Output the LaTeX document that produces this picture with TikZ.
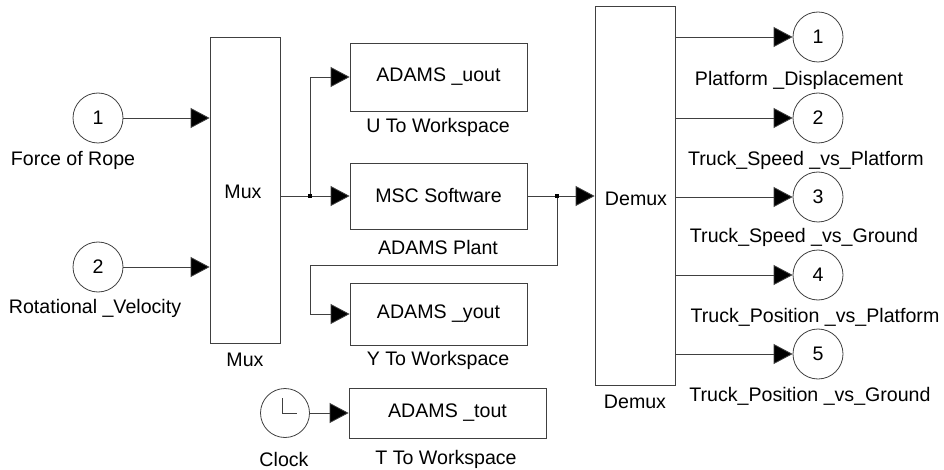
\documentclass[tikz,border=0pt]{standalone}
\usepackage{fontspec}
\setmainfont{Liberation Sans}
\usetikzlibrary{arrows.meta,calc}

\begin{document}
\begin{tikzpicture}[x=1pt,y=-1pt,
  every node/.style={font=\fontsize{19.6}{22}\selectfont, inner sep=0pt},
  block/.style={draw=black!75, line width=0.8pt, fill=white, rectangle},
  port/.style={draw=black!75, line width=0.8pt, circle, minimum size=50pt},
  sig/.style={draw=black!75, line width=0.8pt, -{Triangle[length=19pt,width=20pt,fill=black]}},
  wire/.style={draw=black!75, line width=0.8pt},
  jdot/.style={fill=black, rectangle, minimum size=4pt}
]
\useasboundingbox (0,0) rectangle (944,470);

% input ports
\node[port] (in1) at (98,118) {1};
\node at (73,160) {Force of Rope};
\node[port] (in2) at (98,267) {2};
\node at (95,308) {Rotational \_Velocity};

% multiplexer
\node[block, minimum width=70pt, minimum height=306pt] (mux) at (245,190) {};
\node at (243,192) {Mux};
\node at (245,360) {Mux};

% workspace sinks and plant
\node[block, minimum width=177pt, minimum height=68pt] (uout) at (438.5,77) {ADAMS \_uout};
\node at (438,127) {U To Workspace};
\node[block, minimum width=177pt, minimum height=66pt] (msc) at (438.5,196) {MSC Software};
\node at (438,247) {ADAMS Plant};
\node[block, minimum width=177pt, minimum height=62pt] (yout) at (438.5,314) {ADAMS \_yout};
\node at (438,360) {Y To Workspace};
\node[block, minimum width=197pt, minimum height=50pt] (tout) at (447.5,413) {ADAMS \_tout};
\node at (446,459) {T To Workspace};

% clock source
\node[port, minimum size=49pt] (clk) at (285,413) {};
\draw[wire] ($(clk.center)+(-3,-15)$) -- ($(clk.center)+(-3,0)$) -- ($(clk.center)+(12,0)$);
\node at (284,459) {Clock};

% demultiplexer
\node[block, minimum width=80pt, minimum height=379pt] (demux) at (635,195.5) {};
\node at (636,199) {Demux};
\node at (635,402) {Demux};

% output ports
\node[port] (o1) at (818,37) {1};
\node at (799,80) {Platform \_Displacement};
\node[port] (o2) at (818,118) {2};
\node at (806,160) {Truck\_Speed \_vs\_Platform};
\node[port] (o3) at (818,197) {3};
\node at (804,237) {Truck\_Speed \_vs\_Ground};
\node[port] (o4) at (818,275) {4};
\node at (815,317) {Truck\_Position \_vs\_Platform};
\node[port] (o5) at (818,354) {5};
\node at (810,396) {Truck\_Position \_vs\_Ground};

% branch points
\coordinate (j1) at (310,196);
\coordinate (j2) at (557,196);
\coordinate (k1) at (310,265);

% signal lines
\draw[sig] (in1.east) -- (in1.east -| mux.west);
\draw[sig] (in2.east) -- (in2.east -| mux.west);
\draw[wire] (mux.east |- j1) -- (j1);
\draw[sig] (j1) -- (msc.west);
\draw[sig] (j1) |- (uout.west);
\draw[wire] (msc.east) -- (j2);
\draw[sig] (j2) -- (j2 -| demux.west);
\draw[wire] (j2) |- (k1);
\draw[sig] (k1) |- (yout.west);
\draw[sig] (clk.east) -- (tout.west);
\foreach \o in {o1,o2,o3,o4,o5}
  \draw[sig] (\o.west -| demux.east) -- (\o.west);

\node[jdot] at (j1) {};
\node[jdot] at (j2) {};
\end{tikzpicture}
\end{document}
